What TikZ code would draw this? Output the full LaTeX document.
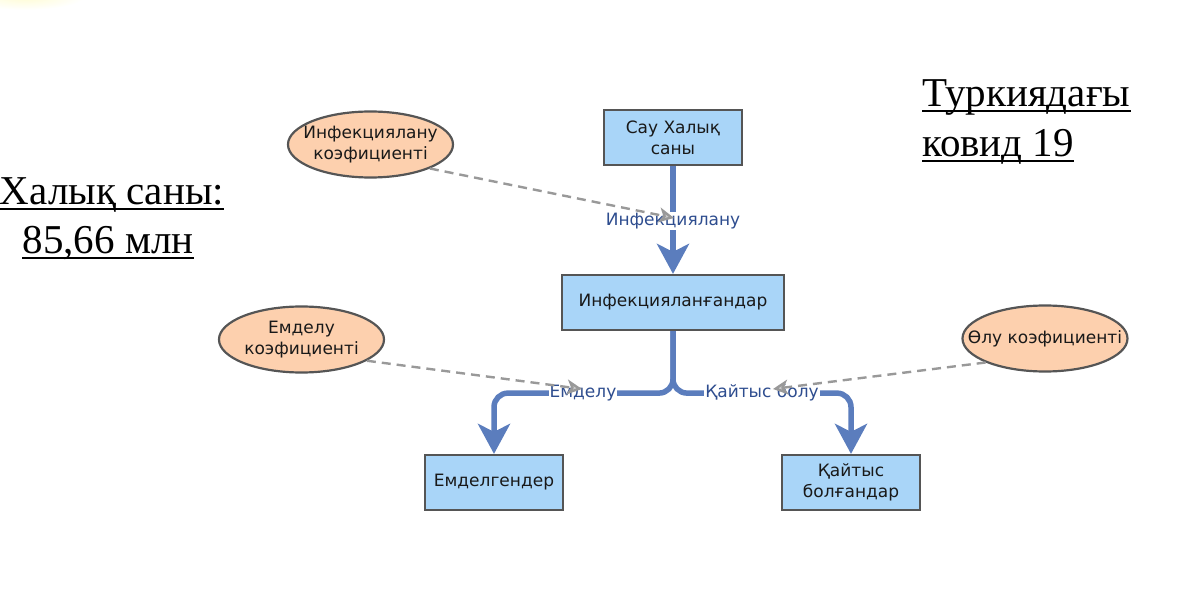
\documentclass[tikz,border=0pt]{standalone}
\usepackage{fontspec}
\setmainfont{Liberation Serif}
\newfontfamily\nodefont{DejaVu Sans}
\usetikzlibrary{arrows.meta,shapes.geometric}
\definecolor{boxfill}{HTML}{A9D5F8}
\definecolor{boxline}{HTML}{555555}
\definecolor{ellfill}{HTML}{FDD0AE}
\definecolor{flowc}{HTML}{5B7DBD}
\definecolor{labc}{HTML}{2E4D8F}
\definecolor{dashc}{HTML}{999999}
\tikzset{
  nfont/.style={font=\nodefont\fontsize{17}{21}\selectfont},
  stockbox/.style={nfont, draw=boxline, line width=2.2pt, fill=boxfill, minimum width=138pt, minimum height=55pt, align=center, inner sep=2pt, text=black!90},
  coef/.style={ellipse, draw=boxline, line width=2.2pt, fill=ellfill, minimum width=165pt, minimum height=66pt, inner sep=0pt},
  coeftext/.style={nfont, align=center, inner sep=0pt, text=black!90},
  flow/.style={draw=flowc, line width=5.5pt, -{Stealth[length=30pt,width=32pt,inset=8pt]}},
  flowlab/.style={nfont, fill=white, text=labc, inner sep=1pt},
  infl/.style={draw=dashc, line width=2.4pt, dash pattern=on 9pt off 6pt, -{Stealth[length=15pt,width=15pt,inset=4pt,fill=dashc!50]}},
  title/.style={font=\fontsize{41}{48}\selectfont, inner sep=0pt},
  uline/.style={line width=2.6pt}
}
\begin{document}
\begin{tikzpicture}[x=1pt,y=-1pt]
\useasboundingbox (0,0) rectangle (1178,612);
\shade[inner color=orange!12!yellow!18, outer color=white, draw=none] (25,-4) ellipse (60pt and 14pt);
% titles
\node[title, anchor=base] (t1) at (112,205) {Халық саны:};
\node[title, anchor=base] (t2) at (108,254) {85,66 млн};
\node[title, anchor=base west] (t3) at (922,107) {Туркиядағы};
\node[title, anchor=base west] (t4) at (922,157) {ковид 19};
\foreach \t in {t1,t2,t3,t4}{
  \draw[uline] ([yshift=-4pt]\t.base west) -- ([yshift=-4pt]\t.base east);
}
% stocks
\node[stockbox] (sau) at (673,137.5) {Сау Халық\\саны};
\node[stockbox, minimum width=222pt] (inf) at (673,302.5) {Инфекцияланғандар};
\node[stockbox] (emd) at (494,482.5) {Емделгендер};
\node[stockbox] (qay) at (851,482.5) {Қайтыс\\болғандар};
% coefficients
\node[coef] (c1) at (370.5,144.5) {};
\node[coeftext] (c1t) at (c1.center) {Инфекциялану\\коэфициенті};
\node[coef] (c2) at (301.5,339.5) {};
\node[coeftext] (c2t) at (c2.center) {Емделу\\коэфициенті};
\node[coef] (c3) at (1045,338.5) {};
\node[coeftext] (c3t) at (c3.center) {Өлу коэфициенті};
% flows
\draw[flow] (sau.south) -- (inf.north);
\draw[flow, rounded corners=14pt] (inf.south) -- ++(0,62) -| (emd.north);
\draw[flow, rounded corners=14pt] (inf.south) -- ++(0,62) -| (qay.north);
\node[flowlab] (l1) at (673,221) {Инфекциялану};
\node[flowlab] (l2) at (583,393) {Емделу};
\node[flowlab] (l3) at (762,393) {Қайтыс болу};
% influences
\coordinate (e1) at (674,218);
\coordinate (e2) at (582,389);
\coordinate (e3) at (773,389);
\draw[infl] (c1.-22) -- (e1);
\draw[infl] (c2.-18) -- (e2);
\draw[infl] (c3.-158) -- (e3);
\end{tikzpicture}
\end{document}
